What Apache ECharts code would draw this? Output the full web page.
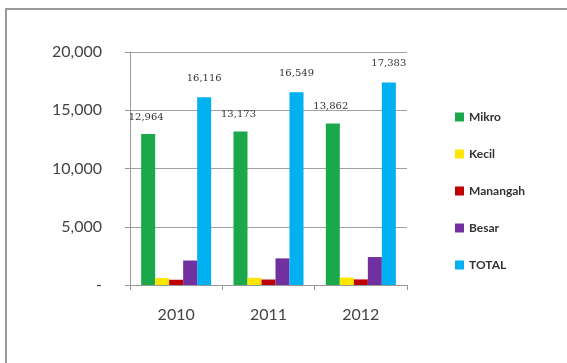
<!DOCTYPE html>
<html><head><meta charset="utf-8">
<script src="https://cdn.jsdelivr.net/npm/echarts@6/dist/echarts.min.js"></script>
<style>html,body{margin:0;padding:0;background:#fff;overflow:hidden}#frame{position:absolute;left:5px;top:8px;width:562px;height:355px;border-left:2px solid #9a9a9a;border-top:2px solid #9a9a9a;box-sizing:border-box}#c{width:567px;height:363px;position:absolute;left:0;top:0}</style>
</head><body><div id="frame"></div><div id="c"></div>
<script>
const categories = ['2010', '2011', '2012'];
const seriesNames = ['Mikro', 'Kecil', 'Manangah', 'Besar', 'TOTAL'];
const mikro = [12964, 13173, 13862];
const kecil = [600, 620, 640];
const menengah = [450, 470, 480];
const besar = [2100, 2286, 2400];
const total = [16116, 16549, 17383];
const yTicks = [0, 5000, 10000, 15000, 20000];

const colors = ['#1aa84a', '#ffe600', '#c00000', '#7030a0', '#00b0f0'];
const values = [mikro, kecil, menengah, besar, total];
const labelled = [true, false, false, false, true];

const chart = echarts.init(document.getElementById('c'));
chart.setOption({
  animation: false,
  grid: { left: 130, right: 160, top: 52, bottom: 78 },
  legend: {
    orient: 'vertical', left: 450, top: 106, itemGap: 25,
    itemWidth: 9, itemHeight: 9, icon: 'rect',
    textStyle: { fontFamily: 'Lato', fontSize: 12, fontWeight: 'bold', color: '#333' },
    data: seriesNames
  },
  xAxis: {
    type: 'category', data: categories,
    axisLine: { lineStyle: { color: '#999' } },
    axisTick: { show: true, lineStyle: { color: '#999' } },
    axisLabel: { fontFamily: 'Lato', fontSize: 16, color: '#444', margin: 22 }
  },
  yAxis: {
    type: 'value', min: yTicks[0], max: yTicks[yTicks.length - 1], interval: 5000,
    axisLine: { show: true, lineStyle: { color: '#999' } },
    axisTick: { show: true, lineStyle: { color: '#999' } },
    splitLine: { lineStyle: { color: '#a0a0a0' } },
    axisLabel: {
      fontFamily: 'Lato', fontSize: 16, color: '#444', margin: 28,
      formatter: v => v === 0 ? '-' : v.toLocaleString('en-US')
    }
  },
  series: seriesNames.map((n, i) => ({
    name: n, type: 'bar', data: values[i], barWidth: 14, barGap: '0%',
    itemStyle: { color: colors[i] },
    label: {
      show: labelled[i], position: 'top', distance: i === 0 ? 12 : 14,
      offset: i === 0 ? [-2, 0] : [0, 0],
      fontFamily: 'DejaVu Serif', fontSize: 10, color: '#333',
      formatter: p => p.value.toLocaleString('en-US')
    }
  }))
});
</script></body></html>
